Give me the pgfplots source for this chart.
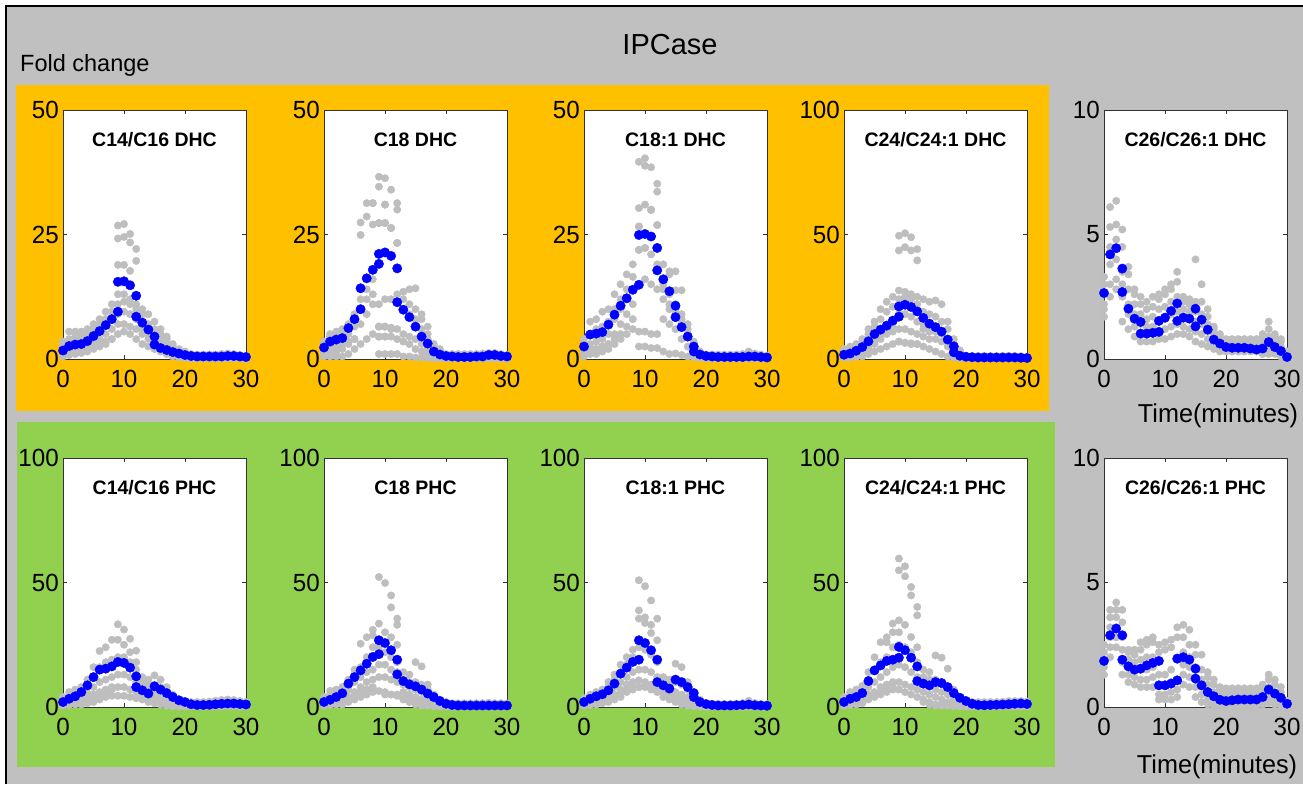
\documentclass[border=0pt]{standalone}
\usepackage{pgfplots}
\pgfplotsset{compat=1.18}
\usepackage{pgfplotstable}
\usepackage{fontspec}
\setmainfont{Liberation Sans}
\definecolor{bgg}{RGB}{192,192,192}
\definecolor{org}{RGB}{255,192,0}
\definecolor{grn}{RGB}{146,208,80}
\definecolor{dotg}{RGB}{190,190,190}
\definecolor{blu}{RGB}{0,0,255}
\newcommand\tickfont{\fontsize{23}{25}\selectfont}
\pgfplotsset{
  sub/.style={
    scale only axis, width=183pt, height=249pt, anchor=south west,
    xmin=0, xmax=30, ymin=0, xtick={0,10,20,30},
    clip=false, axis background/.style={fill=white},
    tick align=inside, tick pos=both, major tick length=4pt,
    axis line style={black!80, line width=0.8pt},
    every tick/.style={black!80, line width=0.8pt},
    /pgf/number format/assume math mode=true,
    tick label style={font=\tickfont},
    xticklabel style={inner sep=0pt, anchor=north, yshift=-11pt, xscale=1.05, yscale=1.08},
    yticklabel style={inner sep=0pt, anchor=east, xshift=-4pt, xscale=1.05, yscale=1.08},
    title style={at={(0.5,1)}, anchor=center, yshift=-36pt, font=\bfseries\fontsize{19.5}{22}\selectfont},
  },
  gdot/.style={only marks, mark=*, mark size=3.7pt, mark options={draw=dotg, fill=dotg}},
  bdot/.style={only marks, mark=*, mark size=4.7pt, mark options={draw=blu, fill=blu}},
}
\newcommand\grays[1]{\pgfplotsinvokeforeach{a,b,c,d,e,f}{\addplot[gdot] table[x=t,y=##1]{#1};}}

% ---------- gray data (replicates) ----------
\pgfplotstableread{
t a b c d e f
0 0.5 1.5 2.5 3.5 3.0 1.0
1 0.8 2.0 3.0 5.5 4.0 1.2
2 1.0 2.2 3.5 5.5 4.5 1.5
3 1.2 2.5 4.0 5.5 5.0 1.8
4 1.5 3.0 4.5 6.0 5.5 2.0
5 2.0 3.5 5.0 7.0 6.0 2.5
6 2.5 4.0 6.0 8.0 7.0 3.0
7 3.0 5.0 7.0 9.5 8.0 3.5
8 4.0 6.0 8.0 11.0 9.5 4.0
9 5.0 7.0 9.0 13.0 11.0 18.9
10 5.5 7.0 9.5 13.0 11.5 18.9
11 5.0 6.5 9.0 12.0 11.0 23.4
12 4.0 6.0 8.0 11.0 10.0 19.7
13 3.0 5.0 7.0 10.0 9.0 6.0
14 2.5 4.0 6.0 9.0 7.0 5.0
15 2.0 3.0 5.0 7.5 6.0 4.0
16 1.5 2.5 4.0 6.0 5.0 3.0
17 1.0 2.0 3.0 4.5 4.0 2.5
18 0.5 1.5 2.0 3.0 2.5 1.8
19 0.3 1.0 1.5 2.0 1.8 1.2
20 0.2 0.8 1.0 1.5 1.2 0.8
21 0.1 0.5 0.7 1.0 0.9 0.6
22 0.1 0.4 0.6 0.9 0.8 0.5
23 0.1 0.4 0.6 0.9 0.8 0.5
24 0.1 0.4 0.6 0.9 0.8 0.5
25 0.1 0.4 0.6 0.9 0.8 0.5
26 0.1 0.4 0.6 1.0 0.9 0.5
27 0.1 0.4 0.7 1.1 1.0 0.6
28 0.1 0.4 0.6 1.0 0.9 0.5
29 0.1 0.3 0.5 0.8 0.7 0.4
30 0.0 0.2 0.4 0.6 0.5 0.3
}\gA
\pgfplotstableread{
t a b c d e f
0 0.5 1.0 2.0 3.0 3.5 1.5
1 0.5 1.5 3.0 4.5 5.0 2.0
2 0.5 1.5 3.0 5.0 5.5 2.5
3 0.5 2.0 3.5 5.5 6.0 3.0
4 1.0 3.0 5.0 6.5 7.0 3.5
5 2.0 4.0 6.5 8.0 9.0 4.0
6 3.0 7.0 10.0 12.0 24.9 27.4
7 4.0 9.0 12.0 14.0 28.6 31.3
8 5.0 11.0 13.0 16.0 27.0 31.3
9 1.0 4.5 6.5 11.0 27.3 34.6
10 1.0 4.5 6.5 12.0 27.3 31.0
11 1.0 4.5 6.0 12.0 26.3 34.0
12 1.0 4.0 6.0 13.0 23.3 30.0
13 0.5 3.5 5.0 10.0 13.5 12.0
14 0.5 3.0 4.5 9.0 14.0 11.0
15 0.3 2.0 4.0 8.0 14.2 10.0
16 0.3 1.5 3.0 6.0 9.0 8.0
17 0.2 1.0 2.0 4.0 6.5 5.0
18 0.1 0.5 1.5 2.5 3.0 2.0
19 0.1 0.4 1.0 1.5 2.0 1.2
20 0.1 0.3 0.5 0.8 1.0 0.6
21 0.1 0.3 0.5 0.8 1.0 0.6
22 0.1 0.3 0.5 0.8 1.0 0.6
23 0.1 0.3 0.5 0.8 1.0 0.6
24 0.1 0.3 0.5 0.8 1.0 0.6
25 0.1 0.3 0.5 0.8 1.0 0.6
26 0.1 0.3 0.6 0.9 1.1 0.7
27 0.1 0.4 0.7 1.0 1.2 0.8
28 0.1 0.4 0.7 1.0 1.2 0.8
29 0.1 0.3 0.5 0.8 1.0 0.6
30 0.0 0.2 0.4 0.6 0.8 0.5
}\gB
\pgfplotstableread{
t a b c d e f
0 0.5 1.5 2.5 4.0 3.0 1.0
1 1.0 2.0 3.0 7.5 5.0 1.5
2 1.0 2.0 3.5 8.0 6.0 2.0
3 1.5 2.5 4.0 9.5 6.5 2.5
4 2.0 3.0 5.0 10.0 7.5 3.0
5 3.0 5.0 8.0 13.0 10.0 4.0
6 4.0 7.0 10.0 15.0 12.0 5.0
7 5.0 9.0 12.0 17.0 14.0 6.5
8 6.0 11.0 14.0 19.0 16.5 8.0
9 2.5 5.5 15.0 21.9 26.6 30.3
10 2.5 5.5 16.0 22.3 31.0 38.8
11 2.2 5.0 15.0 21.0 29.9 38.5
12 2.2 5.0 14.0 19.0 26.9 33.6
13 1.5 8.0 12.0 15.0 19.0 14.0
14 1.0 7.0 10.0 13.0 17.0 11.0
15 1.1 6.0 9.0 11.0 17.6 10.0
16 0.8 4.0 7.0 9.0 13.8 8.0
17 0.5 2.5 4.5 6.0 7.0 5.0
18 0.3 1.0 2.0 3.0 3.5 2.0
19 0.2 0.5 1.0 1.5 1.5 1.0
20 0.1 0.3 0.5 0.7 0.9 0.6
21 0.1 0.3 0.5 0.7 0.9 0.6
22 0.1 0.3 0.5 0.7 0.9 0.6
23 0.1 0.3 0.5 0.7 0.9 0.6
24 0.1 0.3 0.5 0.7 0.9 0.6
25 0.1 0.3 0.5 0.7 0.9 0.6
26 0.1 0.3 0.5 0.8 1.0 0.6
27 0.1 0.4 0.7 1.0 1.5 0.8
28 0.1 0.3 0.5 0.8 1.1 0.6
29 0.1 0.3 0.5 0.7 0.9 0.5
30 0.0 0.2 0.4 0.6 0.7 0.4
}\gC
\pgfplotstableread{
t a b c d e f
0 0.5 1.0 2.0 3.0 4.0 1.5
1 0.5 1.5 3.0 4.5 5.0 2.0
2 0.8 2.0 4.0 5.5 6.0 2.5
3 1.0 3.0 5.0 7.0 8.0 3.5
4 2.0 4.0 7.0 10.0 12.0 5.0
5 3.0 6.0 9.0 13.0 15.0 7.0
6 4.0 8.0 11.0 16.0 20.0 10.0
7 5.0 10.0 13.0 19.0 23.0 12.0
8 6.0 11.0 15.0 21.0 25.0 13.0
9 7.0 12.0 18.0 24.0 27.5 43.6
10 6.5 12.0 18.0 25.0 27.0 44.9
11 6.0 11.0 17.0 24.0 26.0 43.6
12 6.0 10.0 15.0 22.0 25.0 39.6
13 5.0 9.0 14.0 19.0 24.0 12.0
14 4.0 8.0 13.0 18.0 23.0 11.0
15 3.0 8.0 12.0 17.0 23.5 11.0
16 2.0 7.0 11.0 15.0 22.0 10.0
17 1.0 5.0 8.0 12.0 15.0 7.0
18 0.5 2.0 4.0 6.0 8.0 4.0
19 0.3 1.0 2.0 3.0 3.5 2.0
20 0.2 0.5 0.8 1.0 1.2 0.7
21 0.2 0.5 0.8 1.0 1.2 0.7
22 0.2 0.5 0.8 1.0 1.2 0.7
23 0.2 0.5 0.8 1.0 1.2 0.7
24 0.2 0.5 0.8 1.0 1.2 0.7
25 0.2 0.5 0.8 1.0 1.2 0.7
26 0.2 0.5 0.8 1.0 1.2 0.7
27 0.2 0.5 0.8 1.0 1.3 0.7
28 0.2 0.5 0.8 1.0 1.2 0.7
29 0.1 0.4 0.7 0.9 1.1 0.6
30 0.1 0.3 0.5 0.7 0.9 0.5
}\gD
\pgfplotstableread{
t a b c d e f
0 1.7 2.2 2.6 3.0 3.3 2.0
1 2.5 3.0 3.8 4.5 5.3 6.1
2 2.8 3.2 4.0 4.8 5.4 6.35
3 1.5 2.5 3.0 3.5 4.5 5.2
4 1.2 1.8 2.2 2.8 3.4 3.7
5 0.9 1.3 1.8 2.2 2.6 2.8
6 0.7 1.0 1.4 1.8 2.2 2.5
7 0.7 1.0 1.3 1.6 2.0 2.3
8 0.7 1.0 1.3 1.7 2.1 2.5
9 0.8 1.1 1.5 2.0 2.4 2.6
10 0.8 1.2 1.6 2.1 2.6 2.8
11 0.9 1.3 1.8 2.3 2.8 3.0
12 1.0 1.4 1.9 2.5 3.1 3.5
13 1.0 1.3 1.7 2.0 2.3 2.5
14 0.9 1.2 1.6 1.9 2.2 2.4
15 0.7 1.1 1.5 1.9 2.3 4.0
16 0.6 1.0 1.4 1.8 2.3 3.0
17 0.5 0.8 1.1 1.4 1.7 2.0
18 0.4 0.6 0.8 1.0 1.2 1.3
19 0.3 0.5 0.6 0.8 0.9 1.0
20 0.3 0.4 0.5 0.6 0.7 0.8
21 0.3 0.4 0.5 0.6 0.7 0.8
22 0.3 0.4 0.5 0.6 0.7 0.8
23 0.3 0.4 0.5 0.6 0.7 0.8
24 0.3 0.4 0.5 0.6 0.7 0.8
25 0.3 0.4 0.5 0.6 0.7 0.8
26 0.2 0.35 0.5 0.7 0.9 1.0
27 0.2 0.4 0.6 0.9 1.2 1.5
28 0.2 0.3 0.5 0.7 0.9 1.0
29 0.1 0.2 0.3 0.5 0.7 0.8
30 0.05 0.1 0.15 0.2 0.3 0.3
}\gE
\pgfplotstableread{
t a b c d e f
0 0.5 1.0 2.0 3.0 4.0 1.5
1 0.8 1.5 3.0 4.5 6.0 2.0
2 1.0 2.0 3.5 5.0 7.0 2.5
3 1.0 2.5 4.0 6.0 8.0 3.0
4 1.5 3.0 5.5 8.0 11.0 4.0
5 2.0 4.0 8.0 12.0 16.0 5.0
6 3.0 5.0 10.0 16.0 22.5 6.0
7 4.0 6.0 11.0 18.0 24.0 7.0
8 4.5 7.0 12.0 19.0 27.0 8.0
9 4.5 8.0 13.0 20.0 27.0 33.2
10 4.5 8.0 13.0 20.0 25.0 31.1
11 4.0 7.0 12.0 18.0 22.0 27.4
12 3.5 6.0 10.0 15.0 18.0 22.6
13 3.0 5.0 8.0 10.0 12.0 6.0
14 2.0 4.0 7.0 9.0 11.0 5.0
15 1.5 3.5 6.0 9.0 12.7 5.0
16 1.0 3.0 5.0 8.0 11.0 4.0
17 0.5 2.0 4.0 6.0 8.0 3.0
18 0.3 1.0 2.5 4.0 5.0 2.0
19 0.2 0.5 1.5 2.5 3.0 1.5
20 0.2 0.5 1.0 1.8 2.0 1.0
21 0.2 0.5 1.0 1.5 2.0 0.8
22 0.2 0.5 1.0 1.5 2.0 0.8
23 0.2 0.5 1.0 1.5 2.0 0.8
24 0.2 0.5 1.0 1.5 2.2 0.8
25 0.2 0.6 1.1 1.7 2.5 0.9
26 0.3 0.7 1.3 2.0 2.8 1.0
27 0.3 0.7 1.3 2.0 3.0 1.0
28 0.3 0.7 1.3 2.0 2.8 1.0
29 0.2 0.6 1.1 1.7 2.4 0.9
30 0.2 0.5 1.0 1.5 2.0 0.8
}\gF
\pgfplotstableread{
t a b c d e f
0 0.5 1.0 2.0 3.0 4.0 1.5
1 0.8 1.5 3.0 5.0 6.5 2.0
2 1.0 2.0 4.0 6.0 7.0 2.5
3 1.0 2.5 4.5 6.5 8.0 3.0
4 2.0 4.0 7.0 9.0 11.0 4.0
5 3.0 6.0 10.0 13.0 15.0 5.0
6 4.0 8.0 12.0 16.0 25.4 6.0
7 5.0 10.0 14.0 20.0 28.0 7.0
8 6.0 11.0 15.0 24.0 31.0 8.0
9 6.4 12.0 17.0 24.0 33.5 52.2
10 5.0 12.0 17.0 22.0 30.0 49.8
11 5.0 11.0 15.0 20.0 28.0 44.8
12 4.5 10.0 14.0 18.0 25.0 35.5
13 3.0 6.0 9.0 11.0 14.0 5.0
14 2.0 5.0 8.0 10.0 13.0 4.0
15 1.0 4.0 7.0 10.0 18.0 3.0
16 0.5 3.0 6.0 9.0 16.3 2.0
17 0.5 2.0 4.0 7.0 9.0 1.5
18 0.3 1.0 2.5 4.0 5.0 1.0
19 0.2 0.5 1.5 2.5 3.0 0.8
20 0.2 0.4 1.0 1.5 2.0 0.5
21 0.1 0.3 0.6 1.0 1.5 0.4
22 0.1 0.3 0.6 1.0 1.5 0.4
23 0.1 0.3 0.6 1.0 1.5 0.4
24 0.1 0.3 0.6 1.0 1.5 0.4
25 0.1 0.3 0.6 1.0 1.5 0.4
26 0.1 0.3 0.6 1.0 1.5 0.4
27 0.1 0.3 0.7 1.1 1.7 0.4
28 0.1 0.3 0.6 1.0 1.5 0.4
29 0.1 0.3 0.6 1.0 1.5 0.4
30 0.1 0.3 0.6 1.0 1.4 0.4
}\gG
\pgfplotstableread{
t a b c d e f
0 0.5 1.0 2.0 3.0 3.5 1.5
1 0.8 1.5 3.0 4.5 5.0 2.0
2 1.0 2.0 3.5 5.0 6.0 2.5
3 1.5 3.0 4.5 6.0 7.0 3.0
4 2.0 4.0 6.0 8.0 10.0 3.5
5 3.0 5.0 8.0 11.0 13.0 4.0
6 4.0 7.0 10.0 14.0 17.0 5.0
7 6.0 9.0 12.0 17.0 20.0 7.0
8 7.0 10.0 14.0 20.0 23.0 9.0
9 8.0 10.7 15.0 24.0 35.5 50.9
10 8.0 10.0 15.0 23.0 33.7 48.5
11 7.0 9.0 14.0 21.0 29.7 42.8
12 6.0 8.0 12.0 18.0 26.8 35.5
13 4.0 6.0 8.0 10.0 12.0 5.0
14 3.0 5.0 7.0 9.0 11.0 4.0
15 2.0 4.0 6.0 10.0 17.4 3.0
16 1.0 3.0 5.0 9.0 16.0 2.0
17 0.5 2.0 4.0 7.0 10.0 1.0
18 0.3 1.0 2.5 4.0 5.0 0.8
19 0.2 0.5 1.5 2.0 3.0 0.5
20 0.1 0.3 0.5 0.8 1.2 0.4
21 0.1 0.3 0.5 0.8 1.2 0.4
22 0.1 0.3 0.5 0.8 1.2 0.4
23 0.1 0.3 0.5 0.8 1.2 0.4
24 0.1 0.3 0.5 0.8 1.2 0.4
25 0.1 0.3 0.5 0.8 1.3 0.4
26 0.1 0.3 0.6 1.0 1.6 0.4
27 0.1 0.4 0.8 1.3 2.5 0.5
28 0.1 0.3 0.6 1.0 1.6 0.4
29 0.1 0.3 0.5 0.8 1.2 0.4
30 0.1 0.3 0.5 0.8 1.1 0.4
}\gH
\pgfplotstableread{
t a b c d e f
0 0.5 1.0 2.0 3.0 4.0 1.5
1 0.8 1.5 3.0 5.0 6.0 2.0
2 1.0 2.0 4.0 6.0 7.0 2.5
3 1.5 3.0 5.0 7.0 8.5 3.0
4 3.0 5.0 8.0 11.0 14.0 4.0
5 4.0 6.0 10.0 15.0 20.0 5.0
6 5.0 8.0 12.0 18.0 26.0 6.0
7 6.0 9.0 14.0 20.0 28.0 7.0
8 7.0 10.0 16.0 24.0 33.5 8.0
9 7.0 10.0 17.0 25.0 34.8 59.6
10 6.0 9.0 16.0 24.0 33.0 56.5
11 5.0 8.0 14.0 22.0 28.1 48.2
12 4.0 7.0 12.0 18.0 24.0 40.2
13 3.0 6.0 9.0 12.0 15.0 2.0
14 2.0 5.0 8.0 11.0 14.0 1.0
15 1.0 4.0 7.0 11.0 20.7 0.5
16 1.0 3.0 6.0 10.0 19.8 0.5
17 0.5 2.0 5.0 8.0 15.4 1.0
18 0.3 1.5 3.5 5.0 7.0 1.0
19 0.2 1.0 2.0 3.0 4.0 0.5
20 0.2 0.5 1.0 1.5 2.0 0.8
21 0.2 0.5 1.0 1.5 2.0 0.8
22 0.2 0.5 1.0 1.5 2.0 0.8
23 0.2 0.5 1.0 1.5 2.0 0.8
24 0.2 0.5 1.0 1.5 2.0 0.8
25 0.2 0.5 1.0 1.5 2.0 0.8
26 0.2 0.5 1.0 1.6 2.1 0.8
27 0.2 0.6 1.1 1.8 2.4 0.9
28 0.2 0.6 1.1 1.8 2.4 0.9
29 0.2 0.6 1.1 1.8 2.4 0.9
30 0.2 0.5 1.0 1.6 2.2 0.8
}\gI
\pgfplotstableread{
t a b c d e f
0 1.3 1.6 1.9 2.2 2.5 1.8
1 2.0 2.4 2.8 3.2 3.6 3.9
2 2.4 2.8 3.2 3.6 3.9 4.2
3 1.3 1.8 2.3 2.8 3.4 3.9
4 1.0 1.3 1.6 1.9 2.2 2.3
5 0.9 1.2 1.5 1.8 2.1 2.3
6 0.8 1.1 1.5 1.9 2.3 2.6
7 0.8 1.1 1.5 2.0 2.5 2.7
8 0.8 1.2 1.6 2.0 2.6 2.8
9 0.3 0.5 0.9 1.3 2.2 2.5
10 0.3 0.5 0.9 1.3 2.3 2.6
11 0.3 0.6 1.0 1.5 2.4 2.7
12 0.4 0.7 1.1 2.0 2.8 3.2
13 0.9 1.3 1.7 2.2 2.8 3.3
14 0.8 1.2 1.6 2.0 2.5 3.1
15 0.4 0.8 1.2 1.6 2.1 2.5
16 0.2 0.5 0.8 1.1 1.5 2.1
17 0.1 0.3 0.6 0.9 1.2 1.4
18 0.05 0.2 0.4 0.6 0.9 1.1
19 0.05 0.15 0.3 0.5 0.7 0.8
20 0.05 0.15 0.3 0.45 0.6 0.75
21 0.05 0.15 0.3 0.45 0.6 0.75
22 0.05 0.15 0.3 0.45 0.6 0.75
23 0.05 0.15 0.3 0.45 0.6 0.75
24 0.05 0.15 0.3 0.45 0.6 0.75
25 0.05 0.15 0.3 0.45 0.6 0.75
26 0.1 0.2 0.35 0.5 0.7 0.9
27 0.15 0.3 0.5 0.8 1.1 1.3
28 0.1 0.25 0.4 0.6 0.9 1.1
29 0.05 0.15 0.3 0.45 0.6 0.8
30 0.0 0.05 0.1 0.15 0.2 0.25
}\gJ

\begin{document}
\begin{tikzpicture}[x=1pt,y=1pt]
\fill[white] (0,0) rectangle (1303,784);
\fill[bgg] (6,0) rectangle (1303,778);
\draw[black, line width=1.2pt] (6,0) -- (6,778) -- (1303,778);
\fill[org] (16,373) rectangle (1049,699);
\fill[grn] (17,17) rectangle (1055,362);
\node[font=\fontsize{29}{32}\selectfont] at (670,739) {IPCase};
\node[font=\fontsize{23.5}{26}\selectfont, anchor=west, inner sep=0pt] at (20,719) {Fold change};
\node[font=\fontsize{24}{27}\selectfont, xscale=1.05, yscale=1.08] at (1218,368) {Time(minutes)};
\node[font=\fontsize{24}{27}\selectfont, xscale=1.05, yscale=1.08] at (1217,17) {Time(minutes)};

% ---------------- Row 1 ----------------
\begin{axis}[sub, at={(63pt,425pt)}, ymax=50, ytick={0,25,50}, title={C14/C16 DHC}]
\grays{\gA}
\addplot[gdot] coordinates {(9,24.2)(9,26.8)(10,24.5)(10,27.1)(11,25.1)(12,22.1)(11,17.7)};
\addplot[bdot] coordinates {(0,1.7)(1,2.6)(2,2.9)(3,3.0)(4,3.6)(5,4.6)(6,5.6)(7,6.8)(8,8.0)(9,9.5)(9,15.5)(10,15.6)(11,14.8)(12,12.7)(12,8.5)(13,7.3)(14,5.9)(15,4.5)(15,2.9)(16,2.2)(17,1.8)(18,1.4)(19,1.1)(20,0.8)(21,0.6)(22,0.5)(23,0.5)(24,0.5)(25,0.5)(26,0.5)(27,0.6)(28,0.6)(29,0.5)(30,0.4)};
\end{axis}

\begin{axis}[sub, at={(324pt,425pt)}, ymax=50, ytick={0,25,50}, title={C18 DHC}]
\grays{\gB}
\addplot[gdot] coordinates {(9,36.6)(10,36.3)(8,31.3)(10,31.0)(12,31.3)(9,27.3)(10,27.3)(11,26.3)(12,23.3)(9,6.5)(10,6.5)(11,6.3)(9,4.5)(10,4.5)};
\addplot[bdot] coordinates {(0,2.3)(1,3.5)(2,3.9)(3,4.2)(4,6.2)(5,8.0)(6,10.0)(6,14.2)(7,16.2)(8,17.9)(9,19.1)(9,21.1)(10,21.4)(11,20.7)(12,18.2)(12,11.4)(13,9.9)(14,8.4)(15,6.5)(16,4.5)(17,3.1)(18,1.5)(19,0.9)(20,0.6)(21,0.5)(22,0.4)(23,0.4)(24,0.4)(25,0.5)(26,0.5)(27,0.8)(28,0.8)(29,0.6)(30,0.5)};
\end{axis}

\begin{axis}[sub, at={(584pt,425pt)}, ymax=50, ytick={0,25,50}, title={C18:1 DHC}]
\grays{\gC}
\addplot[gdot] coordinates {(9,39.6)(10,40.3)(12,35.2)(11,30.0)(9,26.6)(12,26.9)(9,21.9)(10,22.3)(14,17.6)(15,13.8)};
\addplot[bdot] coordinates {(0,2.5)(1,4.9)(2,5.1)(3,5.4)(4,6.9)(5,8.9)(6,10.7)(7,12.2)(8,13.9)(9,14.9)(9,24.9)(10,25.1)(11,24.6)(12,22.3)(12,17.8)(13,16.0)(14,13.6)(15,10.7)(15,8.4)(16,6.4)(17,4.5)(18,2.5)(18,1.5)(19,0.9)(20,0.6)(21,0.5)(22,0.4)(23,0.4)(24,0.4)(25,0.4)(26,0.4)(27,0.5)(28,0.5)(29,0.4)(30,0.3)};
\end{axis}

\begin{axis}[sub, at={(844pt,425pt)}, ymax=100, ytick={0,50,100}, title={C24/C24:1 DHC}]
\grays{\gD}
\addplot[gdot] coordinates {(9,49.5)(10,50.5)(11,48.9)(12,44.1)(9,7.0)(10,6.5)(11,6.3)(12,6.0)};
\addplot[bdot] coordinates {(0,1.7)(1,2.2)(2,3.3)(3,4.8)(4,7.1)(5,10.0)(6,11.8)(7,13.4)(8,15.4)(9,17.0)(9,21.1)(10,21.8)(11,20.9)(12,19.1)(13,16.5)(14,14.2)(15,12.8)(16,11.0)(17,7.8)(18,5.1)(18,2.7)(19,1.3)(20,0.9)(21,0.7)(22,0.6)(23,0.6)(24,0.6)(25,0.6)(26,0.6)(27,0.6)(28,0.6)(29,0.5)(30,0.4)};
\end{axis}

\begin{axis}[sub, at={(1104pt,425pt)}, ymax=10, ytick={0,5,10}, title={C26/C26:1 DHC}]
\grays{\gE}
\addplot[bdot] coordinates {(0,2.65)(1,4.2)(2,4.45)(3,3.63)(3,2.69)(4,2.02)(5,1.62)(6,1.49)(6,1.02)(7,1.02)(8,1.05)(9,1.09)(9,1.53)(10,1.66)(11,1.93)(12,2.23)(12,1.53)(13,1.66)(14,1.62)(15,1.31)(15,2.02)(16,1.58)(17,1.18)(18,0.78)(19,0.62)(20,0.48)(21,0.45)(22,0.45)(23,0.45)(24,0.42)(25,0.38)(26,0.42)(27,0.68)(28,0.48)(29,0.32)(30,0.08)};
\end{axis}

% ---------------- Row 2 ----------------
\begin{axis}[sub, at={(63pt,77pt)}, ymax=100, ytick={0,50,100}, title={C14/C16 PHC}]
\grays{\gF}
\addplot[bdot] coordinates {(0,2.0)(1,3.3)(2,4.3)(3,6.0)(4,8.7)(5,12.0)(6,15.0)(7,15.4)(8,16.3)(9,18.1)(10,17.7)(11,15.8)(12,12.3)(12,8.0)(13,6.7)(14,5.4)(15,8.3)(16,7.0)(17,5.6)(18,4.0)(19,2.7)(20,2.0)(21,1.1)(22,0.8)(23,0.8)(24,0.9)(25,1.1)(26,1.3)(27,1.4)(28,1.4)(29,1.2)(30,1.0)};
\end{axis}

\begin{axis}[sub, at={(324pt,77pt)}, ymax=100, ytick={0,50,100}, title={C18 PHC}]
\grays{\gG}
\addplot[gdot] coordinates {(8,28.8)(11,40.0)(12,33.0)(10,6.0)(11,5.0)(12,5.0)};
\addplot[bdot] coordinates {(0,2.0)(1,2.9)(2,4.0)(3,5.5)(4,9.4)(5,12.0)(6,14.7)(7,17.4)(8,20.1)(9,21.2)(9,26.8)(10,25.7)(11,22.8)(12,19.0)(12,13.1)(13,10.4)(14,9.1)(15,8.3)(16,7.0)(17,5.4)(18,4.0)(19,2.4)(20,1.3)(21,0.8)(22,0.6)(23,0.6)(24,0.6)(25,0.6)(26,0.6)(27,0.6)(28,0.6)(29,0.6)(30,0.6)};
\end{axis}

\begin{axis}[sub, at={(584pt,77pt)}, ymax=100, ytick={0,50,100}, title={C18:1 PHC}]
\grays{\gH}
\addplot[gdot] coordinates {(9,38.8)(10,36.0)(11,33.0)(8,8.0)(9,8.0)};
\addplot[bdot] coordinates {(0,2.0)(1,3.3)(2,4.3)(3,5.1)(4,6.7)(5,9.4)(6,13.4)(7,15.8)(8,18.1)(9,19.0)(9,26.8)(10,25.7)(11,22.8)(12,19.0)(12,10.0)(13,8.7)(14,7.4)(15,11.0)(16,10.0)(17,8.0)(18,5.6)(18,4.0)(19,2.0)(20,1.2)(21,0.8)(22,0.6)(23,0.6)(24,0.6)(25,0.7)(26,0.8)(27,1.0)(28,0.7)(29,0.6)(30,0.5)};
\end{axis}

\begin{axis}[sub, at={(844pt,77pt)}, ymax=100, ytick={0,50,100}, title={C24/C24:1 PHC}]
\grays{\gI}
\addplot[gdot] coordinates {(9,54.9)(10,52.5)(11,44.8)(12,36.8)(8,30.0)(9,30.0)(7,26.0)};
\addplot[bdot] coordinates {(0,2.0)(1,3.3)(2,4.0)(3,5.6)(4,10.4)(5,14.7)(6,16.7)(7,18.5)(8,19.0)(9,19.8)(9,24.1)(10,22.8)(11,19.8)(12,16.3)(12,10.4)(13,9.4)(14,8.7)(15,10.0)(16,9.6)(17,8.0)(18,5.6)(19,3.7)(20,2.4)(21,1.3)(22,0.8)(23,0.7)(24,0.8)(25,0.9)(26,1.0)(27,1.1)(28,1.3)(29,1.4)(30,1.2)};
\end{axis}

\begin{axis}[sub, at={(1104pt,77pt)}, ymax=10, ytick={0,5,10}, title={C26/C26:1 PHC}]
\grays{\gJ}
\addplot[bdot] coordinates {(0,1.85)(1,2.88)(2,3.15)(3,2.88)(3,1.9)(4,1.63)(5,1.5)(6,1.54)(7,1.67)(8,1.77)(9,1.85)(9,0.87)(10,0.87)(11,0.94)(12,1.07)(12,1.94)(13,2.0)(14,1.9)(15,1.54)(15,1.14)(16,0.87)(17,0.6)(18,0.43)(19,0.29)(20,0.24)(21,0.27)(22,0.3)(23,0.3)(24,0.3)(25,0.3)(26,0.4)(27,0.7)(28,0.54)(29,0.37)(30,0.13)};
\end{axis}

\pgfresetboundingbox
\useasboundingbox (0,0) rectangle (1303,784);
\end{tikzpicture}
\end{document}
